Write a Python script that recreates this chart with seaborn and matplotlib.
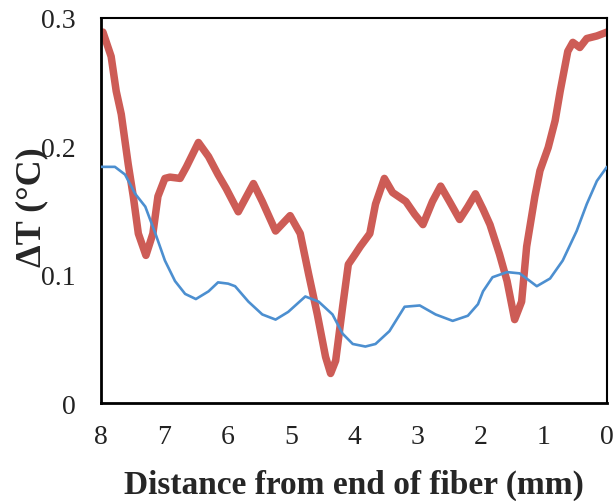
import numpy as np
import pandas as pd
import seaborn as sns
import matplotlib
matplotlib.use("Agg")
import matplotlib.pyplot as plt
from matplotlib.ticker import FuncFormatter

# Red (thick) series
red_x = [8.00, 7.97, 7.84, 7.76, 7.68, 7.57, 7.49, 7.41, 7.29, 7.18, 7.10, 6.99, 6.91, 6.75, 6.65,
         6.46, 6.30, 6.15, 6.02, 5.83, 5.59, 5.45, 5.24, 5.01, 4.85, 4.72, 4.58, 4.45, 4.37, 4.29,
         4.18, 4.09, 3.98, 3.90, 3.75, 3.66, 3.52, 3.39, 3.18, 3.04, 2.91, 2.76, 2.63, 2.49, 2.33,
         2.20, 2.08, 1.96, 1.85, 1.70, 1.58, 1.46, 1.35, 1.27, 1.14, 1.06, 0.93, 0.82, 0.74, 0.62,
         0.54, 0.43, 0.32, 0.16, 0.00]
red_y = [0.287, 0.289, 0.270, 0.243, 0.225, 0.186, 0.161, 0.132, 0.115, 0.132, 0.161, 0.175, 0.176, 0.175, 0.184,
         0.203, 0.192, 0.178, 0.167, 0.149, 0.171, 0.157, 0.134, 0.146, 0.132, 0.101, 0.069, 0.036, 0.023, 0.033,
         0.075, 0.108, 0.116, 0.122, 0.132, 0.155, 0.175, 0.164, 0.157, 0.147, 0.139, 0.157, 0.169, 0.157, 0.143,
         0.153, 0.163, 0.151, 0.139, 0.116, 0.095, 0.065, 0.079, 0.122, 0.161, 0.181, 0.199, 0.220, 0.243, 0.274,
         0.281, 0.277, 0.284, 0.286, 0.289]

# Blue (thin) series
blue_x = [8.00, 7.78, 7.62, 7.46, 7.30, 7.14, 6.99, 6.83, 6.67, 6.50, 6.30, 6.15, 5.99, 5.88, 5.67,
          5.45, 5.24, 5.04, 4.77, 4.56, 4.34, 4.18, 4.02, 3.82, 3.66, 3.44, 3.20, 2.96, 2.71, 2.44,
          2.20, 2.04, 1.96, 1.81, 1.58, 1.38, 1.11, 0.90, 0.70, 0.48, 0.32, 0.16, 0.00]
blue_y = [0.184, 0.184, 0.178, 0.163, 0.153, 0.132, 0.111, 0.095, 0.085, 0.081, 0.087, 0.094, 0.093, 0.091, 0.079,
          0.069, 0.065, 0.071, 0.083, 0.079, 0.069, 0.054, 0.046, 0.044, 0.046, 0.056, 0.075, 0.076, 0.069, 0.064,
          0.068, 0.077, 0.087, 0.098, 0.102, 0.101, 0.091, 0.097, 0.111, 0.134, 0.155, 0.173, 0.184]

x_ticks = [8, 7, 6, 5, 4, 3, 2, 1, 0]
y_ticks = [0, 0.1, 0.2, 0.3]
x_label = "Distance from end of fiber (mm)"
y_label = "ΔT (°C)"

sns.set_style("white")
plt.rcParams['font.family'] = ['Liberation Serif', 'DejaVu Serif']

fig = plt.figure(figsize=(6.13, 5.02), dpi=100)
ax = fig.add_axes([0.1648, 0.1952, 0.8254, 0.767])

red_df = pd.DataFrame({"x": red_x, "y": red_y})
blue_df = pd.DataFrame({"x": blue_x, "y": blue_y})
sns.lineplot(data=red_df, x="x", y="y", ax=ax, color="#cd5c56", linewidth=5.4, zorder=2,
             solid_capstyle="round", solid_joinstyle="round")
sns.lineplot(data=blue_df, x="x", y="y", ax=ax, color="#4c8fd0", linewidth=1.9, zorder=3)

ax.set_xlim(8, 0)
ax.set_ylim(0, 0.3)
ax.set_xticks(x_ticks)
ax.set_yticks(y_ticks)
ax.yaxis.set_major_formatter(FuncFormatter(lambda v, p: "0" if abs(v) < 1e-9 else f"{v:.1f}"))
ax.tick_params(axis="both", direction="in", length=5, width=1, colors="black", labelsize=20,
               labelcolor="#222222")
ax.tick_params(axis="x", pad=15)
ax.tick_params(axis="y", pad=18.5)
for s in ax.spines.values():
    s.set_visible(True)
    s.set_color("black")
    s.set_linewidth(1.5)
ax.spines["left"].set_linewidth(2)
ax.spines["bottom"].set_linewidth(2)

ax.set_xlabel(x_label, fontsize=24, fontweight="bold")
ax.xaxis.set_label_coords(0.5, -0.212)
ax.xaxis.label.set_va("center")
ax.set_ylabel(y_label, fontsize=26, fontweight="bold")
ax.yaxis.set_label_coords(-0.136, 0.512)
ax.yaxis.label.set_va("center")

fig.savefig("out.png", dpi=100)
